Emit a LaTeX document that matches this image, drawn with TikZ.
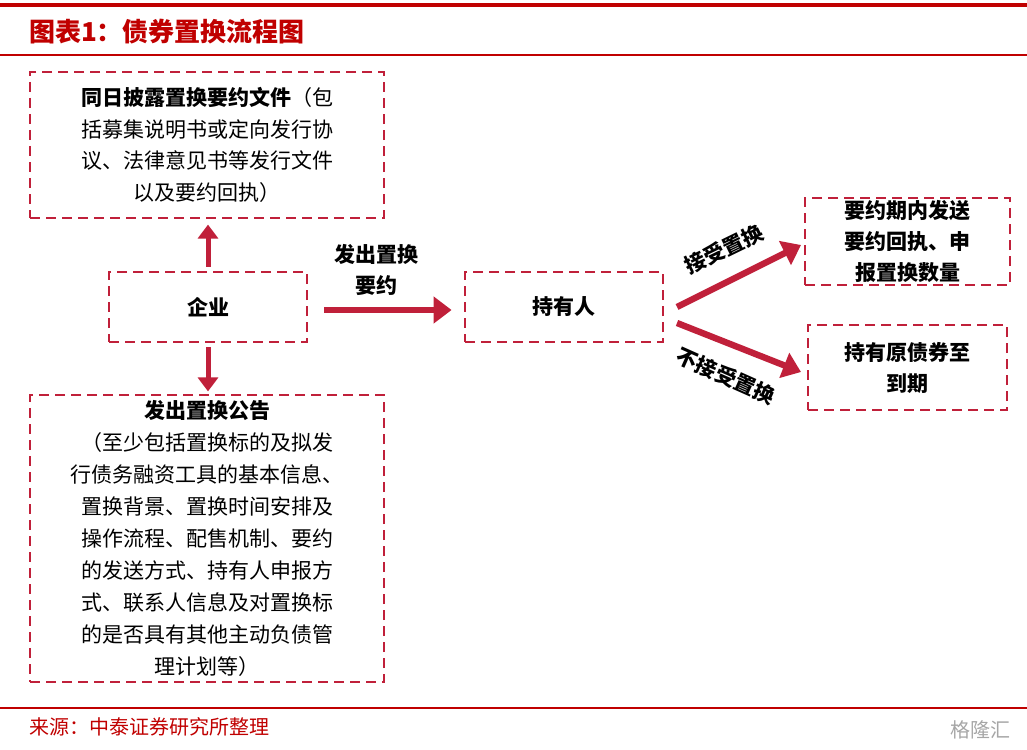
\documentclass[tikz,border=0pt]{standalone}
\usepackage{fontspec}
\setmainfont{Noto Sans CJK SC}
\usetikzlibrary{arrows.meta,calc}
\definecolor{dr}{HTML}{C0203A}
\definecolor{tr}{HTML}{C00000}
\tikzset{
 box/.style={draw=dr,line width=1.4pt,dash pattern=on 5pt off 3pt,align=center,font=\fontsize{10.5}{15.8}\selectfont,inner sep=0pt},
 bigarrow/.style={draw=dr,line width=3.2pt,-{Triangle[length=9pt,width=13pt]}},
 lbl/.style={font=\fontsize{10.5}{15.5}\selectfont\bfseries,align=center,inner sep=1pt}
}
\begin{document}
\begin{tikzpicture}[x=0.5pt,y=-0.5pt]
\useasboundingbox (0,0) rectangle (1027,749);
\fill[tr] (0,3) rectangle (1027,7);
\draw[tr,line width=0.6pt] (0,55) -- (1027,55);
\node[anchor=west,text=tr,font=\fontsize{13}{15}\selectfont\bfseries\itshape] (title) at (22,32) {图表1：债券置换流程图};
\node[box,minimum width=177pt,minimum height=73pt] (b1) at (207,145) {\textbf{同日披露置换要约文件}（包\\括募集说明书或定向发行协\\议、法律意见书等发行文件\\以及要约回执）};
\node[box,minimum width=99pt,minimum height=35pt,font=\fontsize{10.5}{12}\selectfont\bfseries] (qy) at (208,307) {企业};
\node[box,minimum width=177pt,minimum height=143.5pt,font=\fontsize{10.5}{16}\selectfont] (b2) at (207,538.5) {\textbf{发出置换公告}\\（至少包括置换标的及拟发\\行债务融资工具的基本信息、\\置换背景、置换时间安排及\\操作流程、配售机制、要约\\的发送方式、持有人申报方\\式、联系人信息及对置换标\\的是否具有其他主动负债管\\理计划等）};
\node[box,minimum width=99pt,minimum height=35pt,font=\fontsize{10.5}{12}\selectfont\bfseries] (cy) at (564,307) {持有人};
\node[box,minimum width=102.5pt,minimum height=43.5pt,font=\fontsize{10.5}{15.5}\selectfont\bfseries] (r1) at (907.5,241.5) {要约期内发送\\要约回执、申\\报置换数量};
\node[box,minimum width=99.5pt,minimum height=42.5pt,font=\fontsize{10.5}{15.5}\selectfont\bfseries] (r2) at (907.5,367.5) {持有原债券至\\到期};
\draw[bigarrow,line width=2.5pt,-{Triangle[length=7pt,width=10pt]}] ($(qy.north)+(0,-4)$) -- ($(qy.north)+(0,-46)$);
\draw[bigarrow,line width=2.5pt,-{Triangle[length=7pt,width=10pt]}] ($(qy.south)+(0,4)$) -- ($(qy.south)+(0,48)$);
\draw[bigarrow] ($(qy.east)+(16,3)$) -- ($(cy.west)+(-12,3)$);
\node[lbl] (l1) at (376,270) {发出置换\\要约};
\coordinate (s1) at (677,307);
\coordinate (s2) at (677,323);
\draw[bigarrow] (s1) -- (801,245);
\draw[bigarrow] (s2) -- (801,372);
\node[lbl,rotate=26] (l2) at (724,249) {接受置换};
\node[lbl,rotate=-24] (l3) at (726,376) {不接受置换};
\draw[tr,line width=0.6pt] (0,708) -- (1027,708);
\node[anchor=west,text=tr,font=\fontsize{10}{12}\selectfont] (src) at (22,727) {来源：中泰证券研究所整理};
\node[anchor=east,text=gray!70,font=\fontsize{10}{12}\selectfont] (wm) at (1018,730) {格隆汇};
\end{tikzpicture}
\end{document}
